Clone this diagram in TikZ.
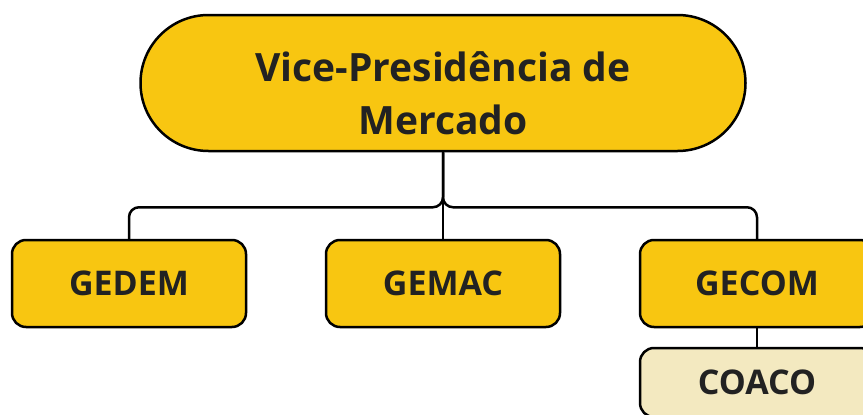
\documentclass[tikz,border=0pt]{standalone}
\usepackage{fontspec}
\setmainfont{Open Sans}
\usetikzlibrary{positioning}
\definecolor{vpyellow}{HTML}{F8C611}
\definecolor{subcream}{HTML}{F3E9C0}
\definecolor{textdark}{HTML}{222222}

\begin{document}
\begin{tikzpicture}[x=1pt, y=-1pt, node distance=77.5pt, line width=2.5pt,
	main node/.style={draw,fill=vpyellow,rounded corners=14pt,minimum width=234pt,minimum height=87pt,
		inner sep=0pt,text=textdark,font=\fontsize{34}{40}\selectfont\bfseries},
	top node/.style={main node,minimum width=605pt,minimum height=136pt,rounded corners=68pt,
		align=center,font=\fontsize{39}{52.5}\selectfont\bfseries}]
	
	\useasboundingbox (0,0) rectangle (863,415);
	
	\node[top node] (vp) at (443,83) {\rule{0pt}{50.5pt}Vice-Presidência de\\Mercado};
	\node[main node] (gedem) at (129,283.5) {GEDEM};
	\node[main node] (gemac) [right=of gedem] {GEMAC};
	\node[main node] (gecom) [right=of gemac] {GECOM};
	\node[main node,fill=subcream,minimum height=69pt] (coaco) [below=18.5pt of gecom] {COACO};
	
	\draw[rounded corners=10pt] (vp.south) -- ++(0,55) -| (gedem.north);
	\draw[rounded corners=10pt] (vp.south) -- ++(0,55) -| (gecom.north);
	\draw (vp.south) -- (gemac.north);
	\draw (gecom) -- (coaco);
\end{tikzpicture}
\end{document}
